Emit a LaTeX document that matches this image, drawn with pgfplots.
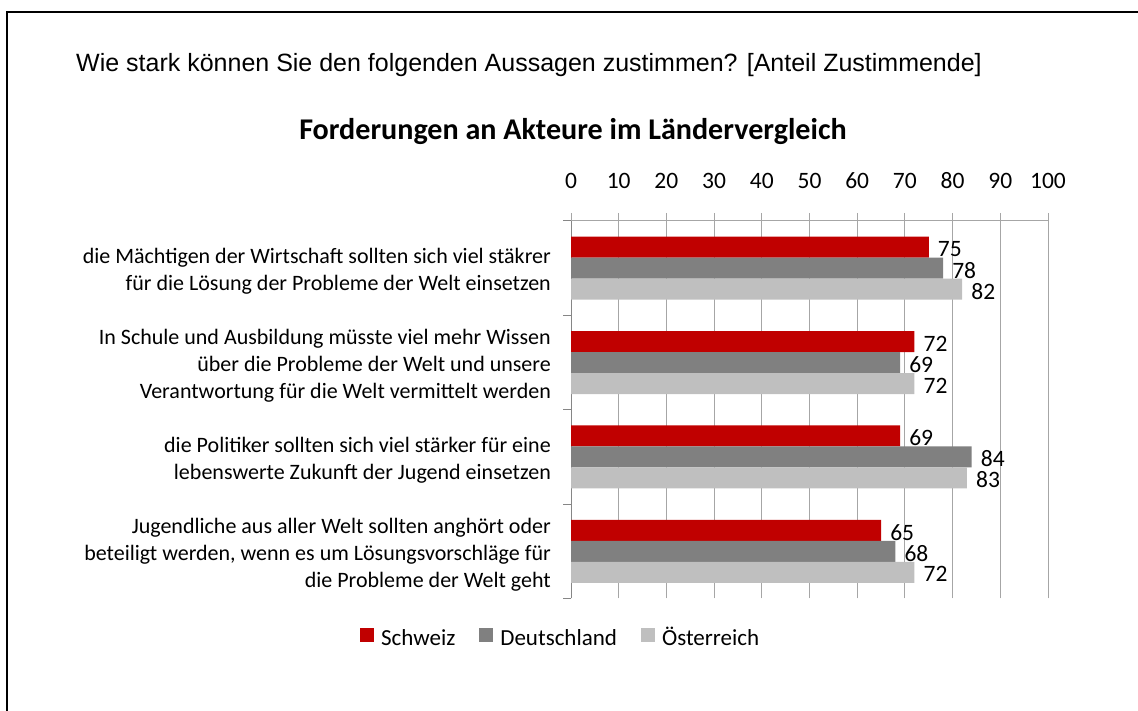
\documentclass[border=0pt]{standalone}
\usepackage{pgfplots}
\pgfplotsset{compat=1.18}
\usepackage{fontspec}
\setmainfont{Carlito}
\newfontfamily\arialfont{Liberation Sans}
\definecolor{chred}{HTML}{C00000}
\definecolor{chdark}{HTML}{808080}
\definecolor{chlight}{HTML}{BFBFBF}
\definecolor{gridc}{HTML}{A6A6A6}
\definecolor{axc}{HTML}{868686}

\pgfplotstableread{
y val
3 75
2 72
1 69
0 65
}\schweiz
\pgfplotstableread{
y val
3 78
2 69
1 84
0 68
}\deutschland
\pgfplotstableread{
y val
3 82
2 72
1 83
0 72
}\oesterreich

\begin{document}
\begin{tikzpicture}[x=1pt,y=1pt]
\useasboundingbox (0,0) rectangle (1138,711);
\draw[line width=2pt] (7,-5) -- (7,699) -- (1145,699);
\node[anchor=base west, inner sep=0, font=\arialfont\fontsize{25}{29}\selectfont] at (76,639.5) {Wie stark können Sie den folgenden Aussagen zustimmen? [Anteil Zustimmende]};
\node[anchor=base, inner sep=0, font=\bfseries\fontsize{30.1}{34}\selectfont] at (573,571.7) {Forderungen an Akteure im Ländervergleich};
\begin{axis}[
  at={(571pt,112.5pt)}, anchor=south west,
  scale only axis, width=477pt, height=377.5pt,
  xmin=0, xmax=100, ymin=-0.5, ymax=3.5,
  xbar, bar width=21pt,
  /pgf/number format/assume math mode=true,
  axis x line*=top, axis y line*=left,
  x axis line style={gridc, line width=1pt, -},
  y axis line style={axc, line width=1pt, -},
  xtick={0,10,...,100},
  tick align=outside, major tick length=8pt,
  xtick style={gridc, line width=1pt},
  xmajorgrids, major grid style={gridc, line width=1pt},
  xticklabel style={font=\fontsize{23.5}{27}\selectfont, anchor=south, inner sep=0pt, yshift=24pt},
  ytick={0,1,2,3},
  ytick style={draw=none},
  yticklabels={
    {Jugendliche aus aller Welt sollten anghört oder\\beteiligt werden, wenn es um Lösungsvorschläge für\\die Probleme der Welt geht},
    {die Politiker sollten sich viel stärker für eine\\lebenswerte Zukunft der Jugend einsetzen},
    {In Schule und Ausbildung müsste viel mehr Wissen\\über die Probleme der Welt und unsere\\Verantwortung für die Welt vermittelt werden},
    {die Mächtigen der Wirtschaft sollten sich viel stäkrer\\für die Lösung der Probleme der Welt einsetzen}},
  yticklabel style={align=right, font=\fontsize{22}{27}\selectfont, inner sep=0pt, xshift=-12pt, yshift=-3pt},
  extra y ticks={-0.5,0.5,1.5,2.5,3.5},
  extra y tick labels={},
  extra y tick style={ytick style={draw=axc, line width=1pt}},
  nodes near coords,
  nodes near coords style={font=\fontsize{23.5}{27}\selectfont, anchor=west, inner sep=1pt, xshift=8pt, yshift=-2pt, text=black},
  legend columns=3,
  legend style={draw=none, at={(-0.0217,-0.110)}, anchor=center,
    font=\fontsize{23}{27}\selectfont,
    nodes={text height=16pt, text depth=5pt},
    /tikz/every odd column/.append style={column sep=5pt},
    /tikz/every even column/.append style={column sep=22pt}},
  legend image code/.code={\fill[#1] (0pt,-2pt) rectangle (14pt,12pt);},
]
\addplot[fill=chred, draw=none, bar shift=21pt] table[x=val,y=y] {\schweiz};
\addplot[fill=chdark, draw=none, bar shift=0pt] table[x=val,y=y] {\deutschland};
\addplot[fill=chlight, draw=none, bar shift=-21pt] table[x=val,y=y] {\oesterreich};
\legend{Schweiz, Deutschland, Österreich}
\end{axis}
\end{tikzpicture}
\end{document}
